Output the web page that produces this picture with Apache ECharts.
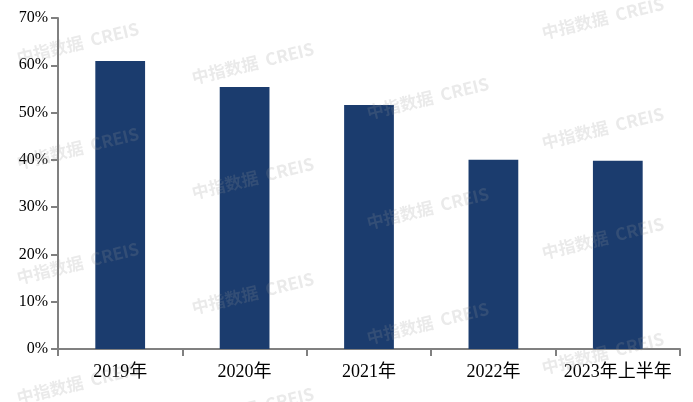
<!DOCTYPE html>
<html><head><meta charset="utf-8">
<script src="https://cdn.jsdelivr.net/npm/echarts@6/dist/echarts.min.js"></script>
<style>html,body{margin:0;padding:0;background:#fff}#c{width:693px;height:402px}</style>
</head><body><div id="c"></div>
<script>
const categories = ['2019年','2020年','2021年','2022年','2023年上半年'];
const values = [60.9, 55.4, 51.6, 40.0, 39.8];
const yTicks = [0,10,20,30,40,50,60,70];

const wmPos = [[15,45],[190,65],[365,100],[540,130],[540,20],[15,150],[190,180],[365,210],[540,240],[15,265],[190,295],[365,325],[540,355],[15,385],[190,410]];
const graphics = wmPos.map(p => ({
  type:'text', left:p[0], top:p[1]-25, rotation:0.24, z:100, silent:true,
  style:{text:'中指数据  CREIS', font:'bold 17px "Noto Sans CJK SC", sans-serif', fill:'rgba(150,150,150,0.2)'}
}));

const chart = echarts.init(document.getElementById('c'));
chart.setOption({
  animation:false,
  grid:{left:58, right:13, top:18, bottom:53},
  xAxis:{type:'category', data:categories,
    axisLine:{lineStyle:{color:'#808080', width:2}},
    axisTick:{show:true, length:7, lineStyle:{color:'#808080', width:2}},
    axisLabel:{color:'#000', fontSize:18, interval:0, fontFamily:'"Liberation Serif","Noto Sans CJK SC",serif', margin:14}},
  yAxis:{type:'value', min:0, max:70, interval:10,
    axisLine:{show:true, lineStyle:{color:'#808080', width:2}},
    axisTick:{show:true, length:7, lineStyle:{color:'#808080', width:2}},
    splitLine:{show:false},
    axisLabel:{color:'#000', fontSize:16, fontFamily:'"Liberation Serif",serif', margin:10, formatter: v => v + '%'}},
  series:[{type:'bar', data:values, barWidth:'40%', itemStyle:{color:'#1b3c6e'}}],
  graphic: graphics
});
</script></body></html>
